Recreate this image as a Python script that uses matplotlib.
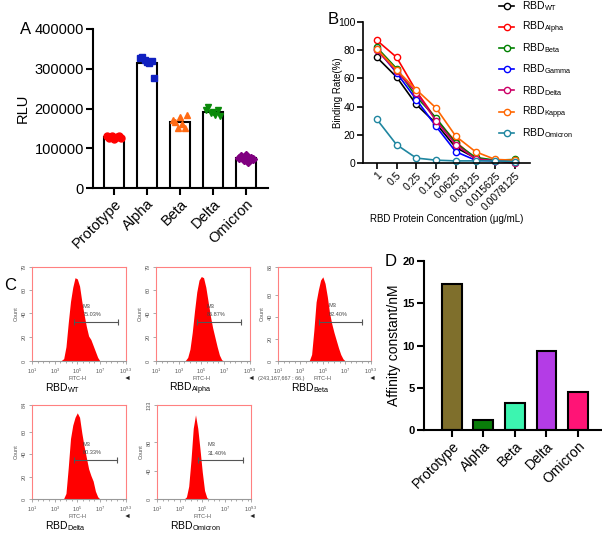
import matplotlib
matplotlib.use('Agg')
import matplotlib.pyplot as plt
from matplotlib.lines import Line2D
import numpy as np

plt.rcParams['font.family'] = ['Liberation Sans', 'DejaVu Sans']
plt.rcParams['mathtext.default'] = 'regular'

W, H = 602, 535

# ---- data ----
# A: pseudovirus RLU
variants = ['Prototype', 'Alpha', 'Beta', 'Delta', 'Omicron']
rlu_prototype = [130000, 126000, 132000, 124000, 129000, 131000, 127000]
rlu_alpha = [326000, 330000, 323000, 318000, 314000, 320000, 277000]
rlu_beta = [170000, 165000, 152000, 178000, 160000, 150000, 183000]
rlu_delta = [197000, 203000, 188000, 192000, 183000, 195000, 180000]
rlu_omicron = [75000, 80000, 70000, 82000, 65000, 76000, 72000]

# B: binding rate vs concentration
conc_labels = ['1', '0.5', '0.25', '0.125', '0.0625', '0.03125', '0.015625', '0.0078125']
bind_wt = [75, 61, 41.5, 28, 11, 3.5, 1.5, 1]
bind_alpha = [87, 75, 51, 31, 15, 3, 1.5, 0.5]
bind_beta = [82, 67, 47, 32, 14, 4, 2, 2.5]
bind_gamma = [81, 64, 45, 26, 8, 2, 1.5, 1]
bind_delta = [80, 65, 50, 30, 13, 3, 1.5, 0]
bind_kappa = [81, 66, 52, 39, 19, 8, 2.5, 2]
bind_omicron = [31, 13, 3.5, 2, 1.5, 1.5, 1.5, 1]
bind_names = ['WT', 'Alpha', 'Beta', 'Gamma', 'Delta', 'Kappa', 'Omicron']

# C: flow cytometry histograms (log10 FITC-H vs count)
fitc_log = [3.4, 3.6, 3.8, 4.0, 4.2, 4.4, 4.6, 4.8, 5.0, 5.2, 5.4, 5.6, 5.8, 6.0, 6.2, 6.4, 6.6, 6.8, 7.0]
count_wt = [0, 0.5, 2, 12, 32, 50, 62, 70, 69, 63, 50, 39, 29, 21, 18, 13, 8, 3, 0]
count_alpha = [0, 0.5, 3, 10, 24, 42, 58, 68, 71, 70, 62, 50, 38, 28, 20, 12, 5, 1, 0]
count_beta = [0, 0, 0.5, 6, 28, 54, 65, 74, 77, 71, 59, 44, 34, 26, 19, 12, 6, 2, 0]
count_delta = [0, 0, 0.5, 5, 28, 54, 66, 73, 77, 73, 59, 47, 37, 27, 21, 16, 7, 2, 0]
count_omicron = [0, 3, 18, 55, 100, 119, 100, 70, 38, 12, 2, 0, 0, 0, 0, 0, 0, 0, 0]
flow_names = ['WT', 'Alpha', 'Beta', 'Delta', 'Omicron']
flow_pct = ['75.03%', '86.87%', '82.40%', '80.33%', '31.40%']
flow_ymax = [79, 79, 86, 84, 133]
gate_lo = [4.7, 4.6, 4.7, 4.7, 4.65]
gate_hi = [8.6, 8.5, 8.5, 8.5, 8.6]
gate_y = [33, 33, 36, 35, 54.5]

# D: affinity constants
affinity = [17.3, 1.15, 3.2, 9.35, 4.5]


def box(x0, y0, x1, y1):
    return [x0 / W, 1 - y1 / H, (x1 - x0) / W, (y1 - y0) / H]


fig = plt.figure(figsize=(W / 100, H / 100), dpi=100)

# ---------------- A ----------------
ax = fig.add_axes(box(93, 29, 268, 188))
groups = [rlu_prototype, rlu_alpha, rlu_beta, rlu_delta, rlu_omicron]
pt_colors = ['#ff0000', '#1020c0', '#ff6a13', '#0a8a0a', '#800080']
pt_markers = ['o', 's', '^', 'v', 'D']
xa = np.arange(len(variants))
ax.bar(xa, [np.mean(g) for g in groups], width=0.63, color='white',
       edgecolor='black', linewidth=1.5, zorder=1)
for i, g in enumerate(groups):
    off = np.linspace(-0.22, 0.22, len(g))
    ax.plot(xa[i] + off, g, ls='none', marker=pt_markers[i], color=pt_colors[i],
            ms=5 if pt_markers[i] != 'D' else 4, zorder=3)
ax.set_xlim(-0.64, 4.67)
ax.set_ylim(0, 400000)
ax.set_yticks([0, 100000, 200000, 300000, 400000])
ax.set_xticks(xa)
ax.set_xticklabels(variants, rotation=45, ha='right', rotation_mode='anchor')
for s in ['top', 'right']:
    ax.spines[s].set_visible(False)
for s in ['left', 'bottom']:
    ax.spines[s].set_linewidth(1.5)
ax.tick_params(width=1.5, length=5, labelsize=10.5, pad=1.5)
ax.set_ylabel('RLU', fontsize=10.5)
ax.yaxis.set_label_coords(-0.36, 0.5)
fig.text(26 / W, 1 - 30 / H, 'A', fontsize=12, ha='center', va='center')

# ---------------- B ----------------
ax = fig.add_axes(box(363, 22, 530, 163))
series = [bind_wt, bind_alpha, bind_beta, bind_gamma, bind_delta, bind_kappa, bind_omicron]
line_colors = ['#000000', '#ff0000', '#008000', '#0000ff', '#cc0066', '#ff6600', '#1f86a0']
xb = np.arange(len(conc_labels))
for vals, c in zip(series, line_colors):
    ax.plot(xb, vals, color=c, lw=1.2, marker='o', mfc='white', mec=c, ms=4.5,
            mew=1.0, clip_on=False)
ax.set_xlim(-0.7, 7.76)
ax.set_ylim(0, 100)
ax.set_yticks([0, 20, 40, 60, 80, 100])
ax.set_xticks(xb)
ax.set_xticklabels(conc_labels, rotation=45, ha='right', rotation_mode='anchor')
for s in ['top', 'right']:
    ax.spines[s].set_visible(False)
for s in ['left', 'bottom']:
    ax.spines[s].set_linewidth(1.2)
ax.tick_params(width=1.2, length=4, labelsize=7.5, pad=1.5)
ax.set_ylabel('Binding Rate(%)', fontsize=7)
ax.yaxis.set_label_coords(-0.12, 0.5)
ax.set_xlabel('RBD Protein Concentration (\u03bcg/mL)', fontsize=7)
ax.xaxis.set_label_coords(0.5, -0.36)
# legend, drawn by hand so the marker lines up with "RBD"
for i, (c, n) in enumerate(zip(line_colors, bind_names)):
    yf = 1 - (5.5 + 21.2 * i) / H
    fig.add_artist(Line2D([499 / W, 506.5 / W, 514 / W], [yf] * 3, color=c, lw=1.2,
                          marker='o', markevery=[1], mfc='white', mec=c, ms=4.5,
                          mew=1.0, transform=fig.transFigure))
    fig.text(522 / W, yf - 3.6 / H, 'RBD$_{%s}$' % n, fontsize=7.5,
             ha='left', va='baseline')
fig.text(333 / W, 1 - 20 / H, 'B', fontsize=12, ha='center', va='center')

# ---------------- C ----------------
flow_counts = [count_wt, count_alpha, count_beta, count_delta, count_omicron]
flow_boxes = [(32, 267, 126, 361), (156, 267, 250, 361), (278, 267, 371, 361),
              (32, 405, 126, 499), (157, 405, 251, 499)]
fx = 10 ** np.array(fitc_log)
for k in range(5):
    ax = fig.add_axes(box(*flow_boxes[k]))
    ax.set_xscale('log')
    ax.fill_between(fx, flow_counts[k], color='#ff0000', lw=0)
    ax.plot([10 ** gate_lo[k], 10 ** gate_hi[k]], [gate_y[k]] * 2, color='#555555',
            lw=0.8, marker='|', ms=4, mew=0.8)
    ax.annotate('M3', (10 ** 5.5, gate_y[k]), xytext=(0, 9.5), textcoords='offset points',
                fontsize=4, color='#444444', va='bottom')
    ax.annotate(flow_pct[k], (10 ** 5.5, gate_y[k]), xytext=(0, 3.5),
                textcoords='offset points', fontsize=4, color='#444444', va='bottom')
    ax.set_xlim(10, 10 ** 9.3)
    ax.set_ylim(0, flow_ymax[k])
    ax.set_xticks([1e1, 1e3, 1e5, 1e7, 10 ** 9.3])
    ax.set_xticklabels(['$10^{1}$', '$10^{3}$', '$10^{5}$', '$10^{7}$', '$10^{9.3}$'])
    ax.xaxis.set_minor_locator(matplotlib.ticker.FixedLocator(10 ** np.arange(1.5, 9.3, 0.5)))
    ax.xaxis.set_minor_formatter(matplotlib.ticker.NullFormatter())
    if flow_ymax[k] > 100:
        yt = [0, 40, 80, flow_ymax[k]]
    else:
        yt = [0, 20, 40, 60, flow_ymax[k]]
    ax.set_yticks(yt)
    ax.set_yticklabels([str(v) for v in yt], rotation=90, va='center')
    for s in ax.spines.values():
        s.set_color('#ff8080')
        s.set_linewidth(0.8)
    ax.spines['bottom'].set_color('#999999')
    ax.tick_params(which='both', length=2, width=0.5, color='#888888',
                   labelsize=4, labelcolor='#555555', pad=2)
    ax.tick_params(which='minor', length=1.2)
    ax.set_ylabel('Count', fontsize=4, color='#555555', labelpad=2)
    ax.text(0.48, -0.19, 'FITC-H', transform=ax.transAxes, fontsize=4,
            color='#555555', ha='center', va='center')
    ax.text(1.01, -0.19, '\u25c4', transform=ax.transAxes, fontsize=5,
            color='#222222', ha='center', va='center')
    if k == 2:
        ax.text(-0.21, -0.19, '(243,167,667 : 66.)', transform=ax.transAxes,
                fontsize=4, color='#555555', ha='left', va='center')
    ax.text(0.14, -0.325, 'RBD$_{%s}$' % flow_names[k], transform=ax.transAxes,
            fontsize=7.5, ha='left', va='baseline')
fig.text(10 / W, 1 - 285 / H, 'C', fontsize=12, ha='center', va='center')

# ---------------- D ----------------
ax = fig.add_axes(box(424, 261, 602, 430))
bar_colors = ['#7f6f2c', '#0a7d0a', '#3cf5b0', '#b43ce6', '#ff1476']
xd = np.arange(len(variants))
ax.bar(xd, affinity, width=0.63, color=bar_colors, edgecolor='black', linewidth=1.5)
ax.set_xlim(-0.88, 4.76)
ax.set_ylim(0, 20)
ax.set_yticks([0, 5, 10, 15, 20])
ax.set_xticks(xd)
ax.set_xticklabels(variants, rotation=45, ha='right', rotation_mode='anchor', fontsize=10)
for lab in ax.get_yticklabels():
    lab.set_fontweight('bold')
for s in ['top', 'right']:
    ax.spines[s].set_visible(False)
for s in ['left', 'bottom']:
    ax.spines[s].set_linewidth(1.5)
ax.tick_params(axis='y', width=1.5, length=5, labelsize=8, pad=1.5)
ax.tick_params(axis='x', width=1.5, length=5, pad=1.5)
ax.set_ylabel('Affinity constant/nM', fontsize=10)
ax.yaxis.set_label_coords(-0.13, 0.5)
fig.text(391 / W, 1 - 262 / H, 'D', fontsize=12, ha='center', va='center')

fig.savefig('out.png', dpi=100)
